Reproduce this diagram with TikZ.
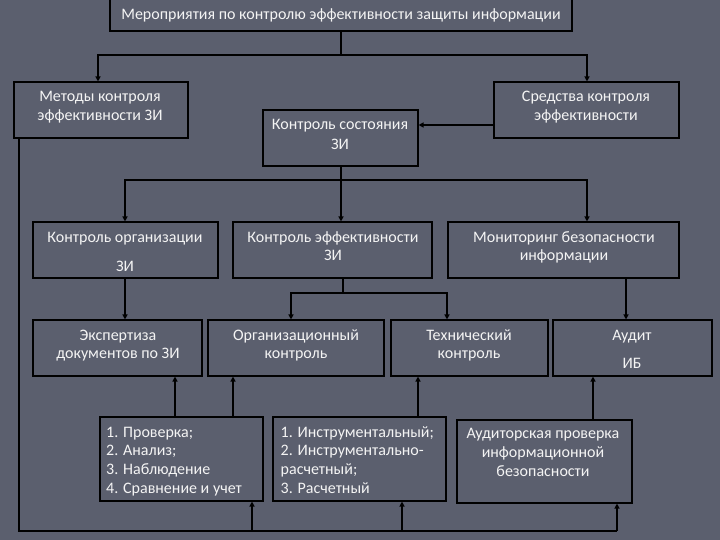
\documentclass[tikz,border=0pt]{standalone}
\usepackage{fontspec}
\setmainfont{Carlito}
\usetikzlibrary{arrows.meta}
\definecolor{bg}{HTML}{5B5F6E}
\definecolor{tx}{HTML}{F4F4F4}
\begin{document}
\begin{tikzpicture}[x=1pt,y=-1pt,
  box/.style={draw=black,line width=1.1pt,inner sep=0pt},
  txt/.style={text=tx,font=\fontsize{16}{19}\selectfont,inner sep=0pt,anchor=base},
  ltxt/.style={txt,anchor=base west},
  conn/.style={draw=black,line width=1.4pt},
  arr/.style={conn,-{Triangle[length=5pt,width=5pt]}}]
\fill[bg] (0,0) rectangle (720,540);
\useasboundingbox (0,0) rectangle (720,540);
% boxes
\node[box,minimum width=462pt,minimum height=33pt] (top) at (341,14.5) {};
\node[box,minimum width=174pt,minimum height=56pt] (metody) at (101,110) {};
\node[box,minimum width=185pt,minimum height=56pt] (sredstva) at (586.5,110) {};
\node[box,minimum width=155pt,minimum height=56pt] (sost) at (340.5,138) {};
\node[box,minimum width=185pt,minimum height=56pt] (org) at (125.5,250) {};
\node[box,minimum width=199pt,minimum height=56pt] (eff) at (332.5,250) {};
\node[box,minimum width=231pt,minimum height=56pt] (monit) at (563.5,250) {};
\node[box,minimum width=169pt,minimum height=56pt] (ekspert) at (117.5,348) {};
\node[box,minimum width=176pt,minimum height=56pt] (orgk) at (296,348) {};
\node[box,minimum width=157pt,minimum height=56pt] (tech) at (469.5,348) {};
\node[box,minimum width=159pt,minimum height=56pt] (audit) at (632.5,348) {};
\node[box,minimum width=163pt,minimum height=84pt] (list1) at (181.5,459) {};
\node[box,minimum width=173pt,minimum height=84pt] (list2) at (359.5,459) {};
\node[box,minimum width=175pt,minimum height=83pt] (auditcheck) at (544.5,461.5) {};
% texts (one node per printed line, anchored on its baseline)
\node[txt] (top-t) at (341,20) {Мероприятия по контролю эффективности защиты информации};
\node[txt] (metody-t1) at (100,102) {Методы контроля};
\node[txt] (metody-t2) at (100,120.7) {эффективности ЗИ};
\node[txt] (sredstva-t1) at (586,102) {Средства контроля};
\node[txt] (sredstva-t2) at (586,120.7) {эффективности};
\node[txt] (sost-t1) at (340,130) {Контроль состояния};
\node[txt] (sost-t2) at (340,150) {ЗИ};
\node[txt] (org-t1) at (125,242) {Контроль организации};
\node[txt] (org-t2) at (125,271) {ЗИ};
\node[txt] (eff-t1) at (333,242) {Контроль эффективности};
\node[txt] (eff-t2) at (333,260) {ЗИ};
\node[txt] (monit-t1) at (564,242) {Мониторинг безопасности};
\node[txt] (monit-t2) at (564,260.7) {информации};
\node[txt] (ekspert-t1) at (118,340) {Экспертиза};
\node[txt] (ekspert-t2) at (118,358) {документов по ЗИ};
\node[txt] (orgk-t1) at (296,340) {Организационный};
\node[txt] (orgk-t2) at (296,358) {контроль};
\node[txt] (tech-t1) at (469,340) {Технический};
\node[txt] (tech-t2) at (469,358) {контроль};
\node[txt] (audit-t1) at (632,340) {Аудит};
\node[txt] (audit-t2) at (632,368) {ИБ};
\node[ltxt] (list1-t1) at (106,437) {1. Проверка;};
\node[ltxt] (list1-t2) at (106,455.7) {2. Анализ;};
\node[ltxt] (list1-t3) at (106,474.3) {3. Наблюдение};
\node[ltxt] (list1-t4) at (106,493) {4. Сравнение и учет};
\node[ltxt] (list2-t1) at (280.5,437) {1. Инструментальный;};
\node[ltxt] (list2-t2) at (280.5,455.7) {2. Инструментально-};
\node[ltxt] (list2-t3) at (280.5,474.3) {расчетный;};
\node[ltxt] (list2-t4) at (280.5,493) {3. Расчетный};
\node[txt] (auditcheck-t1) at (543,438) {Аудиторская проверка};
\node[txt] (auditcheck-t2) at (543,457.3) {информационной};
\node[txt] (auditcheck-t3) at (543,476.7) {безопасности};
% connectors
\coordinate (j1) at (341,55);
\draw[conn] (top.south) -- (j1);
\draw[arr] (j1) -| (98,0 |- metody.north);
\draw[arr] (j1) -| (587,0 |- sredstva.north);
\coordinate (s1) at (494,125);
\draw[arr] (s1 -| sredstva.west) -- (s1 -| sost.east);
\coordinate (j2) at (341,180);
\draw[conn] (341,0 |- sost.south) -- (j2);
\draw[arr] (j2) -| (125,0 |- org.north);
\draw[arr] (j2) -- (341,0 |- eff.north);
\draw[arr] (j2) -| (587,0 |- monit.north);
\draw[arr] (125,0 |- org.south) -- (125,0 |- ekspert.north);
\coordinate (j3) at (343,293);
\draw[conn] (343,0 |- eff.south) -- (j3);
\draw[arr] (j3) -| (291,0 |- orgk.north);
\draw[arr] (j3) -| (447,0 |- tech.north);
\draw[arr] (626,0 |- monit.south) -- (626,0 |- audit.north);
\draw[arr] (175,0 |- list1.north) -- (175,0 |- ekspert.south);
\draw[arr] (233,0 |- list1.north) -- (233,0 |- orgk.south);
\draw[arr] (418,0 |- list2.north) -- (418,0 |- tech.south);
\draw[arr] (593,0 |- auditcheck.north) -- (593,0 |- audit.south);
\coordinate (b0) at (19,531);
\coordinate (b1) at (617,531);
\draw[conn] (19,0 |- metody.south) -- (b0) -- (b1);
\draw[arr] (252,531) -- (252,0 |- list1.south);
\draw[arr] (402,531) -- (402,0 |- list2.south);
\draw[arr] (b1) -- (617,0 |- auditcheck.south);
\end{tikzpicture}
\end{document}
